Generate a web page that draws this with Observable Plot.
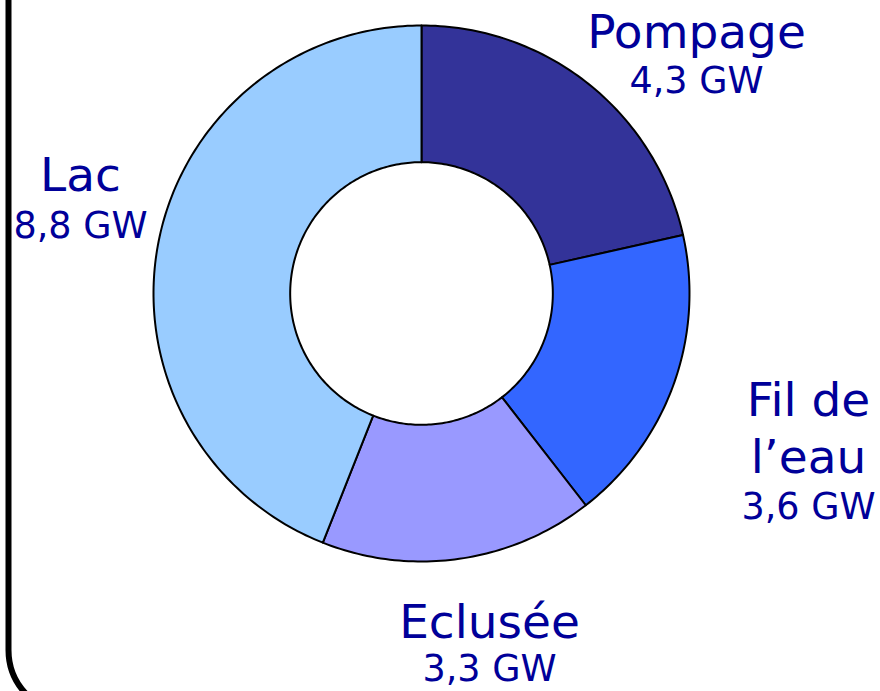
<!DOCTYPE html>
<html><head><meta charset="utf-8">
<script src="https://cdn.jsdelivr.net/npm/d3@7"></script>
<script src="https://cdn.jsdelivr.net/npm/@observablehq/plot@0.6"></script>
<style>html,body{margin:0;padding:0;background:#fff;overflow:hidden;}</style>
</head><body><div id="chart"></div><script>
// ---- data ----
const categories = ["Pompage", "Fil de l’eau", "Eclusée", "Lac"];
const nameLines = [["Pompage"], ["Fil de", "l’eau"], ["Eclusée"], ["Lac"]];
const valuesGW = [4.3, 3.6, 3.3, 8.8];
const unit = "GW";
const colors = ["#333399", "#3366FF", "#9999FF", "#99CCFF"];

// ---- layout (pixels) ----
const W = 880, H = 691, CX = 421, CY = 293, RPX = 268, INNER = 0.49;
const labelLayout = [
  {x: 696, nameY: 47, valueY: 92},
  {x: 808, nameY: 415, valueY: 518},
  {x: 489, nameY: 637, valueY: 680},
  {x: 80, nameY: 190, valueY: 237}
];
const LINE_GAP = 57;
const toX = px => (px - CX) / RPX, toY = py => (CY - py) / RPX;

const pie = d3.pie().sort(null).value(d => d)(valuesGW);
const slices = pie.map((p, i) => {
  const pts = [];
  const span = p.endAngle - p.startAngle;
  const steps = Math.max(4, Math.ceil(360 * span / (2 * Math.PI)));
  for (let k = 0; k <= steps; k++) {
    const a = p.startAngle + span * k / steps;
    pts.push({x: Math.sin(a), y: Math.cos(a)});
  }
  for (let k = steps; k >= 0; k--) {
    const a = p.startAngle + span * k / steps;
    pts.push({x: INNER * Math.sin(a), y: INNER * Math.cos(a)});
  }
  pts.push(pts[0]);
  return {pts, color: colors[i]};
});

const nameTexts = [], valueTexts = [];
categories.forEach((c, i) => {
  const L = labelLayout[i];
  nameLines[i].forEach((t, j) => nameTexts.push({text: t, x: toX(L.x), y: toY(L.nameY + j * LINE_GAP)}));
  valueTexts.push({text: valuesGW[i].toFixed(1).replace(".", ",") + " " + unit, x: toX(L.x), y: toY(L.valueY)});
});

const chart = Plot.plot({
  width: W, height: H, margin: 0,
  x: {domain: [toX(0), toX(W)], axis: null},
  y: {domain: [toY(H), toY(0)], axis: null},
  style: {fontFamily: "DejaVu Sans", background: "white"},
  marks: [
    ...slices.map(s => Plot.line(s.pts, {x: "x", y: "y", fill: s.color, stroke: "black", strokeWidth: 2, strokeLinejoin: "round"})),
    Plot.text(nameTexts, {x: "x", y: "y", text: "text", fontSize: 47, fill: "#000099", textAnchor: "middle", lineAnchor: "bottom"}),
    Plot.text(valueTexts, {x: "x", y: "y", text: "text", fontSize: 36.5, fill: "#000099", textAnchor: "middle", lineAnchor: "bottom"}),
    Plot.frame({rx: 63.5, stroke: "black", strokeWidth: 6, insetLeft: 8, insetTop: -300, insetRight: -300, insetBottom: -22})
  ]
});
document.getElementById("chart").appendChild(chart);
</script></body></html>
